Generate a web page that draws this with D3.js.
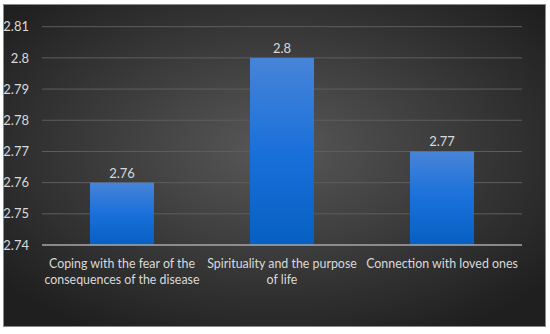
<!DOCTYPE html>
<html><head><meta charset="utf-8">
<script src="https://cdn.jsdelivr.net/npm/d3@7"></script>
<style>body{margin:0;background:#fff}svg{display:block}</style>
</head><body>
<script>
const categories = ["Coping with the fear of the consequences of the disease", "Spirituality and the purpose of life", "Connection with loved ones"];
const categoryLines = [["Coping with the fear of the", "consequences of the disease"], ["Spirituality and the purpose", "of life"], ["Connection with loved ones"]];
const values = [2.76, 2.8, 2.77];
const valueLabels = ["2.76", "2.8", "2.77"];
const yTicks = [2.74, 2.75, 2.76, 2.77, 2.78, 2.79, 2.8, 2.81];
const yTickLabels = ["2.74", "2.75", "2.76", "2.77", "2.78", "2.79", "2.8", "2.81"];

const W = 550, H = 334;
const svg = d3.select("body").append("svg").attr("width", W).attr("height", H);
const defs = svg.append("defs");
const bg = defs.append("radialGradient").attr("id", "bg").attr("cx", "50%").attr("cy", "45%").attr("r", "65%");
bg.append("stop").attr("offset", "0%").attr("stop-color", "#585858");
bg.append("stop").attr("offset", "100%").attr("stop-color", "#1f1f1f");
const bar = defs.append("linearGradient").attr("id", "bar").attr("x1", 0).attr("y1", 0).attr("x2", 0).attr("y2", 1);
bar.append("stop").attr("offset", "0%").attr("stop-color", "#4784d8");
bar.append("stop").attr("offset", "50%").attr("stop-color", "#1a70da");
bar.append("stop").attr("offset", "100%").attr("stop-color", "#0660c2");

svg.append("rect").attr("x", 3.5).attr("y", 4.5).attr("width", 542).attr("height", 322)
  .attr("fill", "url(#bg)").attr("stroke", "#8a8a8a").attr("stroke-width", 1);

const font = "Lato, 'Open Sans', sans-serif";
const x = d3.scaleBand().domain(categories).range([42, 522]).paddingInner(0.6).paddingOuter(0.3);
const y = d3.scaleLinear().domain([2.74, 2.81]).range([245, 26.7]);

const g = svg.append("g");
g.selectAll("line.grid").data(yTicks.slice(1)).join("line")
  .attr("x1", 42).attr("x2", 522).attr("y1", d => y(d)).attr("y2", d => y(d))
  .attr("stroke", "#5e5e5e").attr("stroke-width", 1);

const yAxis = d3.axisLeft(y).tickValues(yTicks).tickFormat((d, i) => yTickLabels[i]).tickSize(0).tickPadding(0);
const ya = svg.append("g").attr("transform", "translate(29,0)").call(yAxis);
ya.select(".domain").remove();
ya.selectAll("text").attr("fill", "#d9d9d9").style("font-family", font).style("font-size", "13px");

g.selectAll("rect.bar").data(values).join("rect")
  .attr("x", (d, i) => x(categories[i])).attr("width", x.bandwidth())
  .attr("y", d => y(d)).attr("height", d => y(2.74) - y(d))
  .attr("fill", "url(#bar)");

const xAxis = d3.axisBottom(x).tickSize(0).tickFormat("");
const xa = svg.append("g").attr("transform", `translate(0,${y(2.74)})`).call(xAxis);
xa.select(".domain").attr("stroke", "#a8a8a8").attr("stroke-width", 1.5).attr("d", "M42,0H522");

g.selectAll("text.val").data(values).join("text")
  .attr("x", (d, i) => x(categories[i]) + x.bandwidth() / 2).attr("y", d => y(d) - 5)
  .attr("text-anchor", "middle").attr("fill", "#d9d9d9")
  .style("font-family", font).style("font-size", "13px")
  .text((d, i) => valueLabels[i]);

categories.forEach((c, i) => {
  const t = svg.append("text").attr("text-anchor", "middle").attr("fill", "#d9d9d9")
    .style("font-family", font).style("font-size", "12.4px");
  categoryLines[i].forEach((ln, j) => {
    t.append("tspan").attr("x", x(c) + x.bandwidth() / 2).attr("y", 268 + j * 16).text(ln);
  });
});
</script>
</body></html>
